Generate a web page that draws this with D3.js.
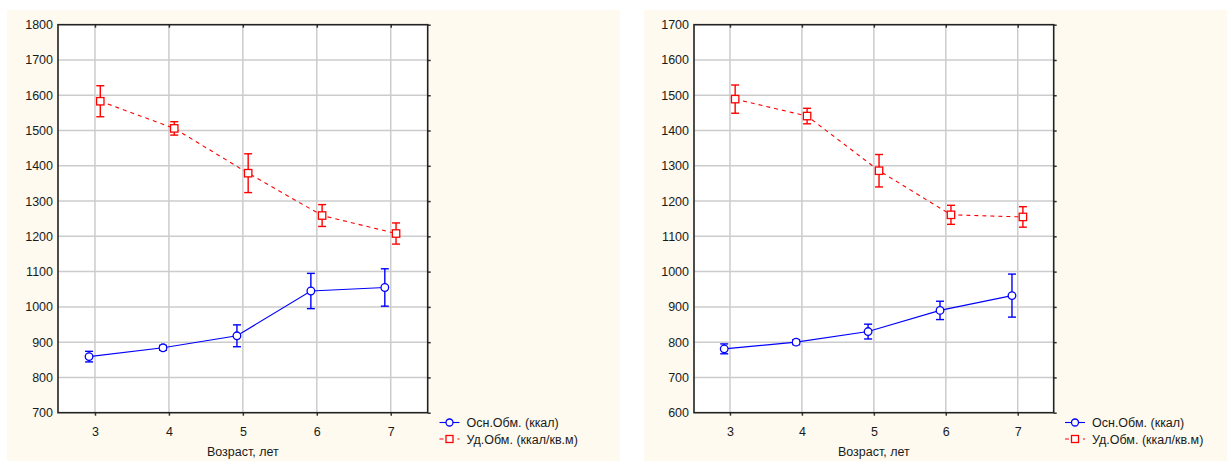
<!DOCTYPE html>
<html>
<head>
<meta charset="utf-8">
<script src="https://cdn.jsdelivr.net/npm/d3@7"></script>
<style>
    body { margin: 0; background: #ffffff; }
    svg { display: block; font-family: "Liberation Sans", Arial, sans-serif; }
</style>
</head>
<body>
<svg id="chart" width="1227" height="462"></svg>
<script>
// ages on the x axis
const ages = [3, 4, 5, 6, 7];

// left chart values
const leftBasal = [859, 884, 918, 1045, 1055];
const leftBasalErr = [15, 7, 31, 50, 53];
const leftSpecific = [1583, 1506, 1379, 1259, 1208];
const leftSpecificErr = [44, 19, 55, 31, 30];
const leftYTicks = [700, 800, 900, 1000, 1100, 1200, 1300, 1400, 1500, 1600, 1700, 1800];

// right chart values
const rightBasal = [781, 800, 830, 890, 932];
const rightBasalErr = [14, 7, 21, 26, 61];
const rightSpecific = [1489, 1441, 1286, 1161, 1155];
const rightSpecificErr = [40, 22, 46, 27, 29];
const rightYTicks = [600, 700, 800, 900, 1000, 1100, 1200, 1300, 1400, 1500, 1600, 1700];

const seriesNames = ["Осн.Обм. (ккал)", "Уд.Обм. (ккал/кв.м)"];
const xTitle = "Возраст, лет";

const svg = d3.select("#chart");

function drawPanel(opt) {
    const g = svg.append("g");

    // cream background of the panel
    g.append("rect")
        .attr("x", opt.bgX).attr("y", 10)
        .attr("width", opt.bgW).attr("height", 451)
        .attr("fill", "#fefaf0");

    const x = d3.scaleLinear().domain([2.5, 7.5]).range([opt.left, opt.right]);
    const y = d3.scaleLinear().domain(d3.extent(opt.yTicks)).range([412.7, 24.7]);

    // plot area
    g.append("rect")
        .attr("x", opt.left).attr("y", y.range()[1])
        .attr("width", opt.right - opt.left).attr("height", y.range()[0] - y.range()[1])
        .attr("fill", "#ffffff");

    // grid
    g.append("g").selectAll("line")
        .data(opt.yTicks.slice(1, -1))
        .join("line")
        .attr("x1", opt.left).attr("x2", opt.right)
        .attr("y1", d => y(d)).attr("y2", d => y(d))
        .attr("stroke", "#cccccc").attr("stroke-width", 1.5);

    g.append("g").selectAll("line")
        .data(ages)
        .join("line")
        .attr("x1", d => x(d)).attr("x2", d => x(d))
        .attr("y1", y.range()[0]).attr("y2", y.range()[1])
        .attr("stroke", "#cccccc").attr("stroke-width", 1.5);

    // axes
    const fmt = d3.format("d");
    const axisLeft = g.append("g")
        .attr("transform", `translate(${opt.left},0)`)
        .call(d3.axisLeft(y).tickValues(opt.yTicks).tickFormat(fmt).tickSize(0).tickPadding(5));
    const axisBottom = g.append("g")
        .attr("transform", `translate(0,${y.range()[0]})`)
        .call(d3.axisBottom(x).tickValues(ages).tickFormat(fmt).tickSize(3).tickPadding(11));
    const axisRight = g.append("g")
        .attr("transform", `translate(${opt.right},0)`)
        .call(d3.axisRight(y).tickValues(opt.yTicks).tickSize(3).tickFormat(""));
    const axisTop = g.append("g")
        .attr("transform", `translate(0,${y.range()[1]})`)
        .call(d3.axisBottom(x).tickValues(ages).tickSize(3).tickFormat(""));

    [axisLeft, axisBottom, axisRight, axisTop].forEach(a => {
        a.select(".domain").remove();
        a.selectAll("line").attr("stroke", "#333333").attr("stroke-width", 1.5);
        a.selectAll("text")
            .attr("font-size", "12.5px")
            .attr("font-family", "Liberation Sans, Arial, sans-serif")
            .attr("fill", "#1a1a1a");
    });

    // frame
    g.append("rect")
        .attr("x", opt.left).attr("y", y.range()[1])
        .attr("width", opt.right - opt.left).attr("height", y.range()[0] - y.range()[1])
        .attr("fill", "none")
        .attr("stroke", "#222222").attr("stroke-width", 1.6);

    g.append("text")
        .attr("x", x(5)).attr("y", 456)
        .attr("text-anchor", "middle")
        .attr("font-size", "12.5px")
        .attr("fill", "#1a1a1a")
        .text(xTitle);

    // series: blue shifted left, red shifted right
    const series = [
        { vals: opt.basal, errs: opt.basalErr, color: "#0000ff", dash: null, shift: -0.08, shape: "circle" },
        { vals: opt.specific, errs: opt.specificErr, color: "#ff0000", dash: "4,4", shift: 0.072, shape: "square" }
    ];

    series.forEach(s => {
        const pts = ages.map((a, i) => ({ x: a + s.shift, v: s.vals[i], e: s.errs[i] }));

        g.append("path")
            .datum(pts)
            .attr("d", d3.line().x(d => x(d.x)).y(d => y(d.v)))
            .attr("fill", "none")
            .attr("stroke", s.color)
            .attr("stroke-width", 1.1)
            .attr("stroke-dasharray", s.dash);

        // error bars
        const eb = g.append("g").selectAll("g").data(pts).join("g")
            .attr("stroke", s.color).attr("stroke-width", 1.4);
        eb.append("line")
            .attr("x1", d => x(d.x)).attr("x2", d => x(d.x))
            .attr("y1", d => y(d.v - d.e)).attr("y2", d => y(d.v + d.e));
        eb.append("line")
            .attr("x1", d => x(d.x) - 4).attr("x2", d => x(d.x) + 4)
            .attr("y1", d => y(d.v + d.e)).attr("y2", d => y(d.v + d.e));
        eb.append("line")
            .attr("x1", d => x(d.x) - 4).attr("x2", d => x(d.x) + 4)
            .attr("y1", d => y(d.v - d.e)).attr("y2", d => y(d.v - d.e));

        if (s.shape === "circle") {
            g.append("g").selectAll("circle").data(pts).join("circle")
                .attr("cx", d => x(d.x)).attr("cy", d => y(d.v)).attr("r", 3.8)
                .attr("fill", "#ffffff").attr("stroke", s.color).attr("stroke-width", 1.3);
        } else {
            g.append("g").selectAll("rect").data(pts).join("rect")
                .attr("x", d => x(d.x) - 3.7).attr("y", d => y(d.v) - 3.7)
                .attr("width", 7.4).attr("height", 7.4)
                .attr("fill", "#ffffff").attr("stroke", s.color).attr("stroke-width", 1.3);
        }
    });

    // legend
    const lg = g.append("g").attr("transform", `translate(${opt.legendX},0)`);
    [0, 1].forEach(i => {
        const s = series[i];
        const ly = 422.5 + i * 16.5;
        lg.append("line")
            .attr("x1", 0).attr("x2", 20).attr("y1", ly).attr("y2", ly)
            .attr("stroke", s.color).attr("stroke-width", 1.1)
            .attr("stroke-dasharray", s.dash ? "4,5" : null);
        if (s.shape === "circle") {
            lg.append("circle").attr("cx", 10).attr("cy", ly).attr("r", 3.5)
                .attr("fill", "#ffffff").attr("stroke", s.color).attr("stroke-width", 1.3);
        } else {
            lg.append("rect").attr("x", 6.5).attr("y", ly - 3.5).attr("width", 7).attr("height", 7)
                .attr("fill", "#ffffff").attr("stroke", s.color).attr("stroke-width", 1.3);
        }
        lg.append("text")
            .attr("x", 27).attr("y", ly + 4.5)
            .attr("font-size", "12.5px")
            .attr("fill", "#1a1a1a")
            .text(seriesNames[i]);
    });
}

drawPanel({
    bgX: 7, bgW: 613, left: 58, right: 427.7, legendX: 439.5,
    yTicks: leftYTicks,
    basal: leftBasal, basalErr: leftBasalErr,
    specific: leftSpecific, specificErr: leftSpecificErr
});

drawPanel({
    bgX: 644, bgW: 583, left: 694, right: 1053.7, legendX: 1065,
    yTicks: rightYTicks,
    basal: rightBasal, basalErr: rightBasalErr,
    specific: rightSpecific, specificErr: rightSpecificErr
});
</script>
</body>
</html>
